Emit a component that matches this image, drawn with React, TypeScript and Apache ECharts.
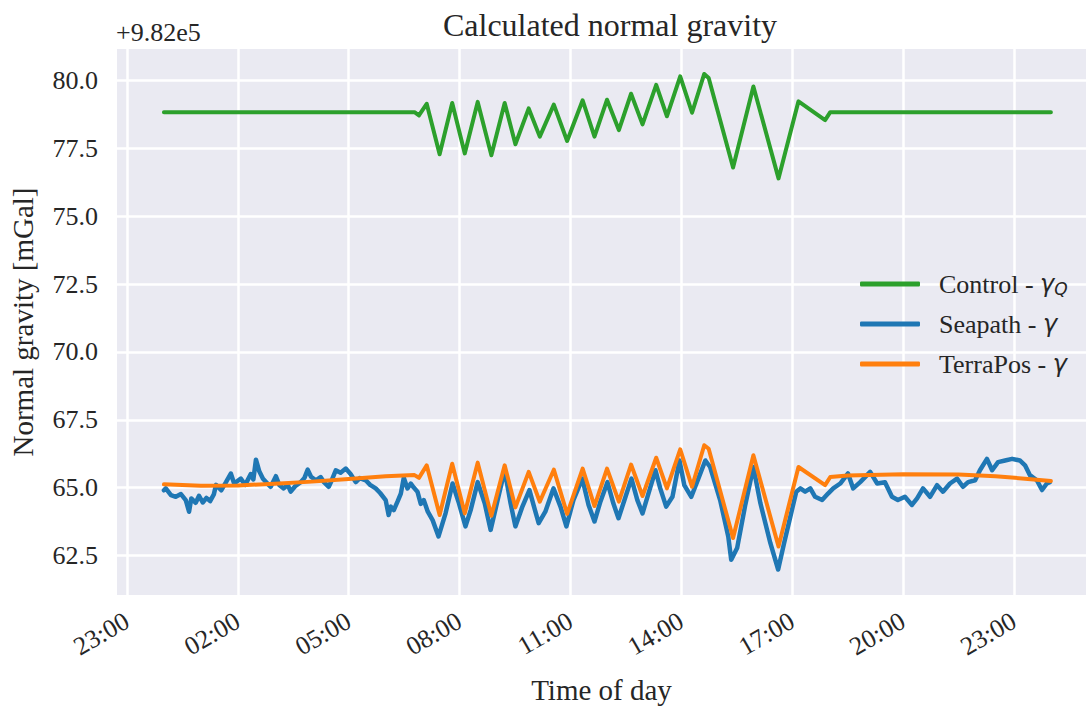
import React, { useEffect, useRef } from "react";
import * as echarts from "echarts";

// Time in hours after midnight of the day shown; values in mGal above 9.82e5
const controlHours = [0, 6.78, 6.9, 7.11, 7.46, 7.8, 8.14, 8.49, 8.86, 9.22, 9.51, 9.87, 10.17, 10.55, 10.91, 11.33, 11.65, 11.99, 12.31, 12.64, 12.95, 13.32, 13.61, 13.97, 14.29, 14.62, 14.74, 15.4, 15.95, 16.63, 17.17, 17.89, 18.03, 24];
const controlValues = [78.84, 78.84, 78.72, 79.15, 77.29, 79.18, 77.32, 79.22, 77.25, 79.18, 77.66, 78.98, 77.94, 79.12, 77.78, 79.28, 77.94, 79.3, 78.18, 79.52, 78.39, 79.85, 78.69, 80.16, 78.82, 80.25, 80.1, 76.8, 79.79, 76.4, 79.24, 78.55, 78.84, 78.84];

const terraHours = [0, 1, 2, 3, 4, 5, 6, 6.78, 6.9, 7.11, 7.46, 7.8, 8.14, 8.49, 8.86, 9.22, 9.51, 9.87, 10.17, 10.55, 10.91, 11.33, 11.65, 11.99, 12.31, 12.64, 12.95, 13.32, 13.61, 13.97, 14.29, 14.62, 14.74, 15.4, 15.95, 16.63, 17.17, 17.89, 18.03, 18.5, 20, 21.5, 22.5, 23.3, 24];
const terraValues = [65.12, 65.07, 65.08, 65.14, 65.22, 65.32, 65.42, 65.46, 65.36, 65.82, 63.99, 65.88, 64.05, 65.92, 63.96, 65.82, 64.27, 65.58, 64.48, 65.66, 64.03, 65.7, 64.32, 65.7, 64.48, 65.85, 64.69, 66.1, 64.97, 66.41, 65.03, 66.56, 66.43, 63.14, 66.19, 62.83, 65.76, 65.09, 65.39, 65.45, 65.49, 65.48, 65.42, 65.33, 65.24];

const seapathHours = [0, 0.05, 0.19, 0.32, 0.46, 0.59, 0.62, 0.68, 0.74, 0.86, 0.95, 1.05, 1.15, 1.25, 1.35, 1.41, 1.55, 1.68, 1.81, 1.9, 2.08, 2.2, 2.35, 2.42, 2.49, 2.58, 2.68, 2.8, 2.89, 3.03, 3.12, 3.24, 3.35, 3.43, 3.55, 3.7, 3.8, 3.89, 3.98, 4.11, 4.24, 4.33, 4.46, 4.55, 4.65, 4.78, 4.92, 5.05, 5.19, 5.3, 5.46, 5.58, 5.73, 5.85, 6.0, 6.08, 6.14, 6.22, 6.32, 6.41, 6.49, 6.59, 6.68, 6.76, 6.86, 6.95, 7.03, 7.14, 7.27, 7.43, 7.62, 7.81, 7.97, 8.16, 8.3, 8.49, 8.68, 8.84, 9.03, 9.22, 9.38, 9.51, 9.7, 9.89, 10.0, 10.14, 10.32, 10.54, 10.73, 10.89, 11.08, 11.32, 11.49, 11.65, 11.81, 12.0, 12.16, 12.3, 12.49, 12.65, 12.81, 12.95, 13.11, 13.3, 13.43, 13.59, 13.76, 13.95, 14.08, 14.27, 14.46, 14.65, 14.78, 15.05, 15.27, 15.35, 15.51, 15.73, 15.95, 16.14, 16.41, 16.62, 16.78, 16.95, 17.11, 17.22, 17.35, 17.49, 17.62, 17.81, 17.97, 18.11, 18.3, 18.51, 18.65, 18.84, 19.11, 19.3, 19.51, 19.7, 19.86, 20.05, 20.24, 20.38, 20.54, 20.73, 20.92, 21.08, 21.27, 21.46, 21.62, 21.76, 21.95, 22.08, 22.27, 22.41, 22.57, 22.76, 22.95, 23.16, 23.3, 23.43, 23.62, 23.76, 23.89, 23.97];
const seapathValues = [64.9, 64.97, 64.72, 64.66, 64.76, 64.54, 64.4, 64.11, 64.6, 64.44, 64.7, 64.45, 64.62, 64.5, 64.75, 65.1, 64.9, 65.2, 65.52, 65.15, 65.33, 65.1, 65.5, 65.3, 66.03, 65.6, 65.33, 65.15, 65.03, 65.42, 65.1, 64.97, 65.1, 64.85, 65.05, 65.2, 65.35, 65.66, 65.4, 65.27, 65.39, 65.2, 65.03, 65.3, 65.64, 65.55, 65.7, 65.5, 65.2, 65.35, 65.27, 65.1, 64.97, 64.8, 64.54, 63.99, 64.3, 64.17, 64.48, 64.78, 65.36, 64.97, 65.15, 65.0, 64.85, 64.4, 64.54, 64.11, 63.8, 63.2, 64.05, 65.15, 64.48, 63.57, 64.17, 65.2, 64.42, 63.44, 64.54, 65.64, 64.42, 63.57, 64.3, 64.91, 64.36, 63.69, 64.11, 64.97, 64.3, 63.57, 64.54, 65.33, 64.36, 63.75, 64.48, 65.2, 64.42, 63.87, 64.66, 65.33, 64.54, 64.05, 64.78, 65.64, 64.97, 64.3, 64.66, 66.0, 65.09, 64.66, 65.33, 66.0, 65.76, 64.54, 63.2, 62.34, 62.77, 64.36, 65.76, 64.42, 62.95, 61.98, 62.95, 63.93, 64.85, 64.97, 64.85, 64.97, 64.66, 64.54, 64.78, 64.97, 65.15, 65.52, 64.97, 65.2, 65.58, 65.15, 65.2, 64.66, 64.54, 64.66, 64.36, 64.6, 64.97, 64.66, 65.09, 64.85, 65.15, 65.33, 65.03, 65.2, 65.27, 65.64, 66.06, 65.64, 65.94, 66.0, 66.06, 66.0, 65.82, 65.46, 65.27, 64.91, 65.15, 65.2];

const xTickHours = [-1, 2, 5, 8, 11, 14, 17, 20, 23];
const yTickValues = [62.5, 65.0, 67.5, 70.0, 72.5, 75.0, 77.5, 80.0];
const seriesNames = ["Control", "Seapath", "TerraPos"];
const legendLabels: Record<string, string> = {
  Control: "Control - {g|γ}{s|Q}",
  Seapath: "Seapath - {g|γ}",
  TerraPos: "TerraPos - {g|γ}",
};

const zip = (xs: number[], ys: number[]) => xs.map((x, i) => [x, ys[i]]);

const FONT = "'Liberation Serif', 'Times New Roman', serif";
const TXT = "#262626";

export default function App() {
  const ref = useRef<HTMLDivElement>(null);
  useEffect(() => {
    if (!ref.current) return;
    const chart = echarts.init(ref.current, undefined, { renderer: "svg" });
    chart.setOption({
      animation: false,
      backgroundColor: "#ffffff",
      title: {
        text: "Calculated normal gravity",
        left: 605,
        top: 4,
        textAlign: "center",
        textStyle: { fontFamily: FONT, fontSize: 32, fontWeight: "normal", color: TXT },
      },
      graphic: [
        {
          type: "text",
          left: 116,
          top: 19,
          style: { text: "+9.82e5", fontFamily: FONT, fontSize: 26, fill: TXT },
        },
      ],
      grid: {
        left: 116,
        right: 0,
        top: 49,
        bottom: 110,
        show: true,
        backgroundColor: "#EAEAF2",
        borderWidth: 0,
      },
      legend: {
        data: seriesNames,
        orient: "vertical",
        left: 855,
        top: 265,
        itemWidth: 60,
        itemHeight: 5,
        itemGap: 14,
        icon: "roundRect",
        formatter: (n: string) => legendLabels[n],
        textStyle: {
          fontFamily: FONT,
          fontSize: 26,
          color: TXT,
          lineHeight: 26,
          padding: [0, 0, 0, 14],
          rich: {
            g: { fontFamily: "DejaVu Sans", fontStyle: "italic", fontSize: 24, color: TXT, lineHeight: 26 },
            s: { fontFamily: "DejaVu Sans", fontStyle: "italic", fontSize: 17, color: TXT, verticalAlign: "bottom", lineHeight: 18, padding: [10, 0, 0, 0] },
          },
        },
      },
      xAxis: {
        type: "value",
        min: -1.27,
        max: 24.95,
        name: "Time of day",
        nameLocation: "middle",
        nameGap: 80,
        nameTextStyle: { fontFamily: FONT, fontSize: 29, color: TXT },
        axisLine: { show: false },
        axisTick: { show: false, customValues: xTickHours },
        axisLabel: {
          customValues: xTickHours,
          rotate: 30,
          margin: 24,
          fontFamily: FONT,
          fontSize: 26,
          color: TXT,
          formatter: (v: number) => String(((Math.round(v) % 24) + 24) % 24).padStart(2, "0") + ":00",
        },
        splitLine: { show: true, lineStyle: { color: "#ffffff", width: 2.5 } },
      },
      yAxis: {
        type: "value",
        min: 61.04,
        max: 81.17,
        name: "Normal gravity [mGal]",
        nameLocation: "middle",
        nameGap: 80,
        nameTextStyle: { fontFamily: FONT, fontSize: 29, color: TXT },
        axisLine: { show: false },
        axisTick: { show: false, customValues: yTickValues },
        axisLabel: {
          customValues: yTickValues,
          margin: 19,
          fontFamily: FONT,
          fontSize: 26,
          color: TXT,
          formatter: (v: number) => v.toFixed(1),
        },
        splitLine: { show: true, lineStyle: { color: "#ffffff", width: 2.5 } },
      },
      series: [
        {
          name: "Control",
          type: "line",
          data: zip(controlHours, controlValues),
          showSymbol: false,
          symbol: "none",
          color: "#2ca02c",
          lineStyle: { width: 4, color: "#2ca02c", cap: "round", join: "round" },
        },
        {
          name: "Seapath",
          type: "line",
          data: zip(seapathHours, seapathValues),
          showSymbol: false,
          symbol: "none",
          color: "#1f77b4",
          lineStyle: { width: 4.5, color: "#1f77b4", cap: "round", join: "round" },
        },
        {
          name: "TerraPos",
          type: "line",
          data: zip(terraHours, terraValues),
          showSymbol: false,
          symbol: "none",
          color: "#ff7f0e",
          lineStyle: { width: 4, color: "#ff7f0e", cap: "round", join: "round" },
        },
      ],
    });
    return () => chart.dispose();
  }, []);
  return <div ref={ref} style={{ position: "absolute", left: 0, top: 0, width: 1086, height: 709 }} />;
}
